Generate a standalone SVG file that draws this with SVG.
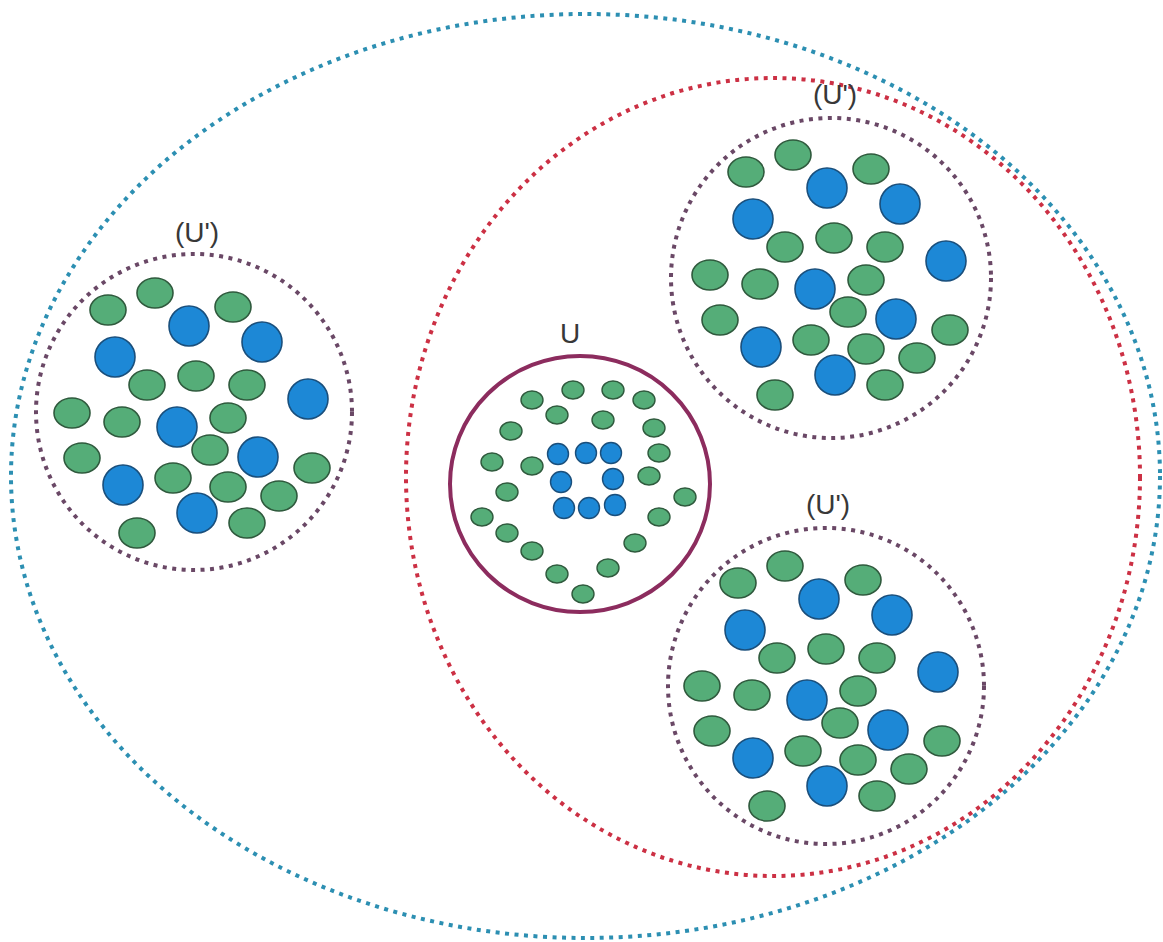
<svg xmlns="http://www.w3.org/2000/svg" xmlns:xlink="http://www.w3.org/1999/xlink" width="1163" height="942" viewBox="0 0 1163 942">
<style>
.g{fill:#55ad78;stroke:#2f5a3d;stroke-width:1.6}
.b{fill:#1d88d6;stroke:#1a4f7c;stroke-width:1.6}
.sg{fill:#55ad78;stroke:#2f5a3d;stroke-width:1.4}
.sb{fill:#1d88d6;stroke:#1a4f7c;stroke-width:1.4}
.dot{fill:none;stroke-width:4;stroke-dasharray:4 5.5}
.lbl{font-family:"Liberation Sans",Arial,sans-serif;font-size:28px;fill:#383838;text-anchor:middle}
</style>
<defs>
<g id="cluster">
<ellipse class="g" cx="155" cy="293" rx="18" ry="15"/>
<ellipse class="g" cx="108" cy="310" rx="18" ry="15"/>
<ellipse class="g" cx="233" cy="307" rx="18" ry="15"/>
<ellipse class="g" cx="147" cy="385" rx="18" ry="15"/>
<ellipse class="g" cx="196" cy="376" rx="18" ry="15"/>
<ellipse class="g" cx="247" cy="385" rx="18" ry="15"/>
<ellipse class="g" cx="72" cy="413" rx="18" ry="15"/>
<ellipse class="g" cx="122" cy="422" rx="18" ry="15"/>
<ellipse class="g" cx="228" cy="418" rx="18" ry="15"/>
<ellipse class="g" cx="210" cy="450" rx="18" ry="15"/>
<ellipse class="g" cx="82" cy="458" rx="18" ry="15"/>
<ellipse class="g" cx="173" cy="478" rx="18" ry="15"/>
<ellipse class="g" cx="228" cy="487" rx="18" ry="15"/>
<ellipse class="g" cx="312" cy="468" rx="18" ry="15"/>
<ellipse class="g" cx="279" cy="496" rx="18" ry="15"/>
<ellipse class="g" cx="137" cy="533" rx="18" ry="15"/>
<ellipse class="g" cx="247" cy="523" rx="18" ry="15"/>
<circle class="b" cx="189" cy="326" r="20"/>
<circle class="b" cx="262" cy="342" r="20"/>
<circle class="b" cx="115" cy="357" r="20"/>
<circle class="b" cx="308" cy="399" r="20"/>
<circle class="b" cx="177" cy="427" r="20"/>
<circle class="b" cx="258" cy="457" r="20"/>
<circle class="b" cx="123" cy="485" r="20"/>
<circle class="b" cx="197" cy="513" r="20"/>
</g>
</defs>
<rect width="1163" height="942" fill="#ffffff"/>
<g id="connectors"></g>
<g id="outer">
<ellipse class="dot" cx="585.5" cy="476" rx="574.5" ry="462" stroke="#2c8fb2"/>
</g>
<g id="inner">
<ellipse class="dot" cx="773" cy="477" rx="367" ry="399" stroke="#cc3044"/>
</g>
<g id="cluster-left">
<circle class="dot" cx="194" cy="412" r="158" stroke="#6a4866"/>
<use xlink:href="#cluster" href="#cluster"/>
<text class="lbl" x="197" y="242">(U')</text>
</g>
<g id="cluster-top-right">
<circle class="dot" cx="831" cy="278" r="160" stroke="#6a4866"/>
<use xlink:href="#cluster" href="#cluster" transform="translate(638,-138)"/>
<text class="lbl" x="835" y="104">(U')</text>
</g>
<g id="cluster-bottom-right">
<circle class="dot" cx="826" cy="686" r="158" stroke="#6a4866"/>
<use xlink:href="#cluster" href="#cluster" transform="translate(630,273)"/>
<text class="lbl" x="828" y="514">(U')</text>
</g>
<g id="U">
<ellipse cx="580" cy="484" rx="130" ry="128" fill="none" stroke="#8c2c5e" stroke-width="4"/>
<text class="lbl" x="570" y="343">U</text>
<ellipse class="sg" cx="573" cy="390" rx="11" ry="9"/>
<ellipse class="sg" cx="613" cy="390" rx="11" ry="9"/>
<ellipse class="sg" cx="532" cy="400" rx="11" ry="9"/>
<ellipse class="sg" cx="644" cy="400" rx="11" ry="9"/>
<ellipse class="sg" cx="557" cy="415" rx="11" ry="9"/>
<ellipse class="sg" cx="603" cy="420" rx="11" ry="9"/>
<ellipse class="sg" cx="511" cy="431" rx="11" ry="9"/>
<ellipse class="sg" cx="654" cy="428" rx="11" ry="9"/>
<ellipse class="sg" cx="659" cy="453" rx="11" ry="9"/>
<ellipse class="sg" cx="492" cy="462" rx="11" ry="9"/>
<ellipse class="sg" cx="532" cy="466" rx="11" ry="9"/>
<ellipse class="sg" cx="649" cy="476" rx="11" ry="9"/>
<ellipse class="sg" cx="507" cy="492" rx="11" ry="9"/>
<ellipse class="sg" cx="685" cy="497" rx="11" ry="9"/>
<ellipse class="sg" cx="482" cy="517" rx="11" ry="9"/>
<ellipse class="sg" cx="659" cy="517" rx="11" ry="9"/>
<ellipse class="sg" cx="507" cy="533" rx="11" ry="9"/>
<ellipse class="sg" cx="635" cy="543" rx="11" ry="9"/>
<ellipse class="sg" cx="532" cy="551" rx="11" ry="9"/>
<ellipse class="sg" cx="608" cy="568" rx="11" ry="9"/>
<ellipse class="sg" cx="557" cy="574" rx="11" ry="9"/>
<ellipse class="sg" cx="583" cy="594" rx="11" ry="9"/>
<circle class="sb" cx="558" cy="454" r="10.5"/>
<circle class="sb" cx="586" cy="453" r="10.5"/>
<circle class="sb" cx="611" cy="453" r="10.5"/>
<circle class="sb" cx="561" cy="482" r="10.5"/>
<circle class="sb" cx="613" cy="479" r="10.5"/>
<circle class="sb" cx="564" cy="508" r="10.5"/>
<circle class="sb" cx="589" cy="508" r="10.5"/>
<circle class="sb" cx="615" cy="505" r="10.5"/>
</g>
</svg>
